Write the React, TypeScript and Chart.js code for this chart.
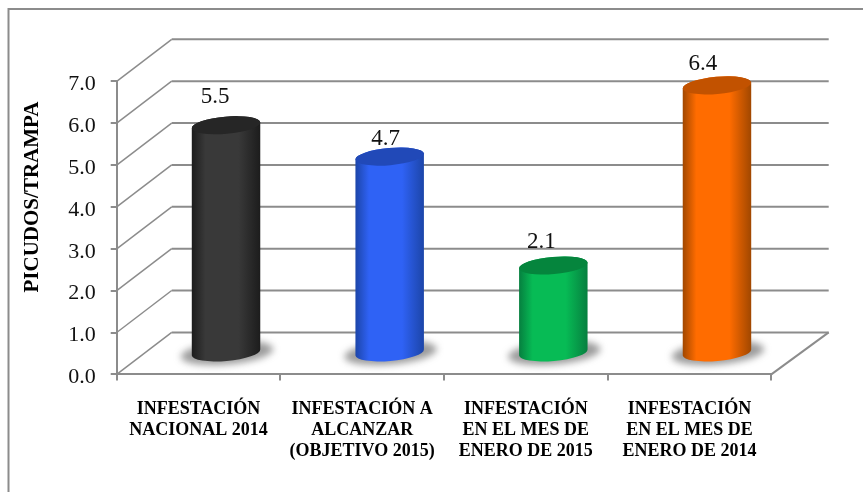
import React, { useEffect, useRef } from "react";
import { Chart, registerables } from "chart.js";

Chart.register(...registerables);

const categories = [
  ["INFESTACIÓN", "NACIONAL 2014"],
  ["INFESTACIÓN A", "ALCANZAR", "(OBJETIVO 2015)"],
  ["INFESTACIÓN", "EN EL MES DE", "ENERO DE 2015"],
  ["INFESTACIÓN", "EN EL MES DE", "ENERO DE 2014"],
];
const infestacion = [5.45, 4.7, 2.1, 6.4];
const valueLabels = ["5.5", "4.7", "2.1", "6.4"];
const axisTitle = "PICUDOS/TRAMPA";

const barColors = ["#393939", "#2f62f5", "#07bb55", "#ff6c00"];
const edgeColors = ["#1c1c1c", "#1c45a8", "#067f3f", "#a04700"];
const capColors = ["#262626", "#2149b8", "#05853d", "#c25200"];

const SERIF = '"Liberation Serif", "Times New Roman", serif';
const GRID = "#8c8c8c";
const DX_LEFT = 55;
const DX_RIGHT = 57.4;
const DY = 42;
const labelNudgeX = [-11, -4, -12, -14];
const labelNudgeY = [-28, -18, -24, -21];

const threeD = {
  id: "threeD",
  beforeDraw(chart: any) {
    const { ctx, width, height } = chart;
    ctx.save();
    ctx.strokeStyle = GRID;
    ctx.lineWidth = 2;
    ctx.beginPath();
    ctx.moveTo(8.5, height);
    ctx.lineTo(8.5, 9);
    ctx.lineTo(width, 9);
    ctx.stroke();
    ctx.fillStyle = "#000";
    ctx.font = `bold 21px ${SERIF}`;
    ctx.textAlign = "center";
    ctx.textBaseline = "middle";
    ctx.translate(33, 197);
    ctx.rotate(-Math.PI / 2);
    ctx.fillText(axisTitle, 0, 0);
    ctx.restore();
  },
  beforeDatasetsDraw(chart: any) {
    const { ctx, chartArea } = chart;
    const y = chart.scales.y;
    const { left, right, bottom } = chartArea;
    ctx.save();

    // Side wall and back wall grid lines
    ctx.strokeStyle = GRID;
    ctx.lineJoin = "miter";
    for (const t of y.ticks) {
      const py = y.getPixelForValue(t.value);
      ctx.lineWidth = 1.5;
      ctx.beginPath();
      ctx.moveTo(left, py);
      ctx.lineTo(left + DX_LEFT, py - DY);
      ctx.stroke();
      ctx.lineWidth = 2;
      ctx.beginPath();
      ctx.moveTo(left + DX_LEFT, py - DY);
      ctx.lineTo(right + DX_RIGHT, py - DY);
      ctx.stroke();
    }
    // Floor right edge
    ctx.lineWidth = 2;
    ctx.beginPath();
    ctx.moveTo(right, bottom);
    ctx.lineTo(right + DX_RIGHT, bottom - DY);
    ctx.stroke();

    const meta = chart.getDatasetMeta(0);
    const tilt = (-5 * Math.PI) / 180;
    const ry = 8.6;

    meta.data.forEach((bar: any, i: number) => {
      const cx = bar.x + DX_LEFT / 2;
      const top = bar.y - DY / 2;
      const base = bar.base - DY / 2;
      const rx = bar.width / 2;

      // Soft floor shadow
      ctx.save();
      ctx.filter = "blur(3.5px)";
      ctx.fillStyle = "rgba(95,95,95,0.62)";
      ctx.beginPath();
      ctx.ellipse(cx + 1, base + 0.5, rx + 12, ry + 3, tilt, 0, Math.PI * 2);
      ctx.fill();
      ctx.restore();

      // Body
      const g = ctx.createLinearGradient(cx - rx, 0, cx + rx, 0);
      g.addColorStop(0, edgeColors[i]);
      g.addColorStop(0.2, barColors[i]);
      g.addColorStop(0.68, barColors[i]);
      g.addColorStop(1, edgeColors[i]);
      ctx.fillStyle = g;
      ctx.beginPath();
      ctx.ellipse(cx, base, rx, ry, tilt, 0, Math.PI);
      ctx.ellipse(cx, top, rx, ry, tilt, Math.PI, Math.PI * 2);
      ctx.closePath();
      ctx.fill();

      // Cap
      ctx.fillStyle = capColors[i];
      ctx.beginPath();
      ctx.ellipse(cx, top, rx, ry, tilt, 0, Math.PI * 2);
      ctx.fill();

      // Value label
      ctx.fillStyle = "#111";
      ctx.font = `23px ${SERIF}`;
      ctx.textAlign = "center";
      ctx.textBaseline = "middle";
      ctx.fillText(valueLabels[i], cx + labelNudgeX[i], top + labelNudgeY[i]);
    });

    ctx.restore();
    return false;
  },
};

export default function App() {
  const ref = useRef<HTMLCanvasElement>(null);
  useEffect(() => {
    const chart = new Chart(ref.current as HTMLCanvasElement, {
      type: "bar",
      data: {
        labels: categories as any,
        datasets: [
          {
            label: axisTitle,
            data: infestacion,
            backgroundColor: barColors,
            categoryPercentage: 1,
            barPercentage: 0.42,
          },
        ],
      },
      options: {
        responsive: false,
        animation: false,
        devicePixelRatio: 1,
        layout: { padding: { left: 0, right: 91.7, top: 81.3, bottom: 0 } },
        plugins: { legend: { display: false }, tooltip: { enabled: false } },
        scales: {
          x: {
            afterFit: (s: any) => {
              s.height = 117.6;
            },
            grid: {
              drawOnChartArea: false,
              color: GRID,
              lineWidth: 2,
              tickLength: 6,
              offset: true,
            },
            border: { color: GRID, width: 2 },
            ticks: {
              autoSkip: false,
              maxRotation: 0,
              minRotation: 0,
              color: "#000",
              padding: 18,
              font: { family: SERIF, size: 18, weight: "bold", lineHeight: 1.17 },
            },
          },
          y: {
            min: 0,
            max: 7,
            afterFit: (s: any) => {
              s.width = 116.7;
            },
            grid: {
              drawOnChartArea: false,
              color: GRID,
              lineWidth: 2,
              tickLength: 6,
            },
            border: { color: GRID, width: 2 },
            ticks: {
              stepSize: 1,
              color: "#111",
              padding: 15,
              labelOffset: 3,
              font: { family: SERIF, size: 22 },
              callback: (v: any) => Number(v).toFixed(1),
            },
          },
        },
      },
      plugins: [threeD],
    } as any);
    return () => chart.destroy();
  }, []);
  return (
    <canvas
      ref={ref}
      width={863}
      height={492}
      style={{ position: "absolute", left: 0, top: 0, width: 863, height: 492, display: "block" }}
    />
  );
}
